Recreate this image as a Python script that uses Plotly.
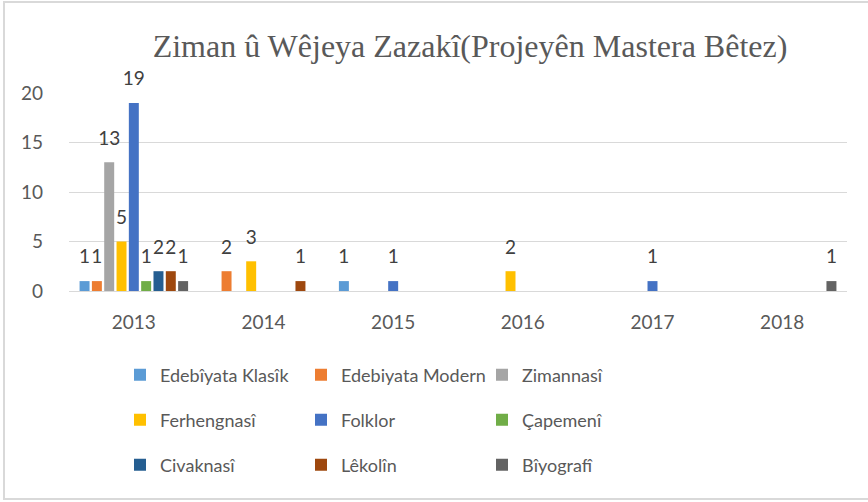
import plotly.graph_objects as go

# Categories and series (number of master projects per year)
years = ['2013', '2014', '2015', '2016', '2017', '2018']

edebiyata_klasik = [1, 0, 1, 0, 0, 0]
edebiyata_modern = [1, 2, 0, 0, 0, 0]
zimannasi = [13, 0, 0, 0, 0, 0]
ferhengnasi = [5, 3, 0, 2, 0, 0]
folklor = [19, 0, 1, 0, 1, 0]
capemeni = [1, 0, 0, 0, 0, 0]
civaknasi = [2, 0, 0, 0, 0, 0]
lekolin = [2, 1, 0, 0, 0, 0]
biyografi = [1, 0, 0, 0, 0, 1]

series = [
    ('Edebîyata Klasîk', edebiyata_klasik, '#5B9BD5', 'legend'),
    ('Edebiyata Modern', edebiyata_modern, '#ED7D31', 'legend'),
    ('Zimannasî', zimannasi, '#A5A5A5', 'legend'),
    ('Ferhengnasî', ferhengnasi, '#FFC000', 'legend2'),
    ('Folklor', folklor, '#4472C4', 'legend2'),
    ('Çapemenî', capemeni, '#70AD47', 'legend2'),
    ('Civaknasî', civaknasi, '#255E91', 'legend3'),
    ('Lêkolîn', lekolin, '#9E480E', 'legend3'),
    ('Bîyografî', biyografi, '#636363', 'legend3'),
]

FONT = 'Lato'
GRID = '#D9D9D9'
BARGAP = 0.145

fig = go.Figure()
for name, vals, color, leg in series:
    fig.add_trace(go.Bar(
        x=years, y=vals, name=name,
        marker=dict(color=color, line=dict(width=0)),
        legend=leg, hoverinfo='name+y',
    ))

# data labels: grouped scatter so they line up with the bars,
# an invisible marker keeps the label lifted off the bar top like Excel does
for name, vals, color, leg in series:
    fig.add_trace(go.Scatter(
        x=years, y=[v if v else None for v in vals],
        mode='markers+text',
        text=[str(v) if v else '' for v in vals],
        textposition='top center',
        textfont=dict(family=FONT, size=19, color='#404040'),
        marker=dict(size=19, opacity=0),
        cliponaxis=False, showlegend=False, hoverinfo='skip',
    ))

# plot area in pixels: left 69, right 847, top 93, bottom 291
W, H = 868, 502
L, R, T, B = 69, 847, 93, 291
pw, ph = R - L, B - T


def px(x):
    return (x - L) / pw


def py(y):
    return (B - y) / ph


leg_common = dict(
    orientation='h', entrywidth=136, entrywidthmode='pixels',
    itemwidth=30, xanchor='left', yanchor='middle',
    font=dict(family=FONT, size=18, color='#595959'),
    bgcolor='rgba(0,0,0,0)', traceorder='normal',
)

fig.update_layout(
    width=W, height=H,
    margin=dict(l=L, r=W - R, t=T, b=H - B),
    paper_bgcolor='white', plot_bgcolor='white',
    barmode='group', bargap=BARGAP, bargroupgap=0.19,
    scattermode='group', scattergap=BARGAP,
    title=dict(
        text='Ziman û Wêjeya Zazakî(Projeyên Mastera Bêtez)',
        font=dict(family='Liberation Serif', size=32, color='#595959'),
        x=px(470), xanchor='center', xref='paper',
        y=1 - 46 / H, yanchor='middle', yref='container',
    ),
    xaxis=dict(
        showgrid=False, showline=True, linecolor=GRID, linewidth=1,
        ticks='', ticklabelstandoff=14,
        tickfont=dict(family=FONT, size=19, color='#595959'),
    ),
    yaxis=dict(
        range=[0, 20], dtick=5, showgrid=True, gridcolor=GRID, gridwidth=1,
        zeroline=False, showline=False, ticks='', ticklabelstandoff=25,
        tickfont=dict(family=FONT, size=19, color='#595959'),
    ),
    legend=dict(x=px(120), y=-(375 - B) / ph, **leg_common),
    legend2=dict(x=px(120), y=-(420 - B) / ph, **leg_common),
    legend3=dict(x=px(120), y=-(465 - B) / ph, **leg_common),
    shapes=[dict(
        type='rect', xref='paper', yref='paper', layer='below',
        x0=px(4), x1=px(878), y0=py(499), y1=py(2),
        line=dict(color=GRID, width=2),
    )],
)

# drop the browser's default body margin so the figure sits at 0,0
fig.write_html('out.html', config={'displayModeBar': False},
               post_script="document.body.style.margin='0';")
